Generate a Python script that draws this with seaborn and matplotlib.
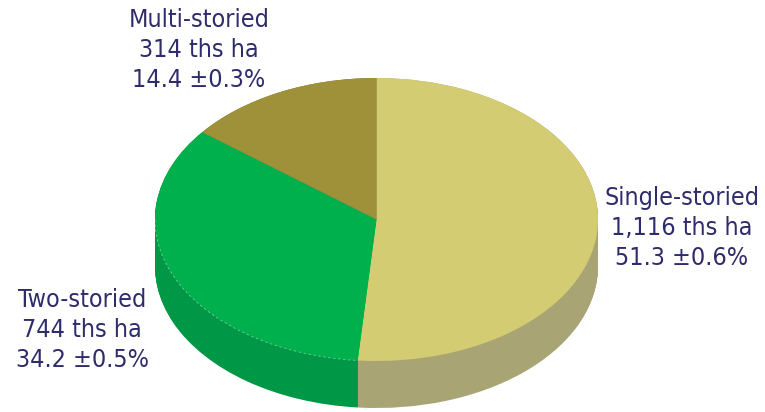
import matplotlib
matplotlib.use("Agg")
import matplotlib.pyplot as plt
import seaborn as sns
import numpy as np
from matplotlib.patches import Arc

sns.set_style("white")
plt.rcParams['font.family'] = ['DejaVu Sans']

# ---- data ----
categories = ["Single-storied", "Two-storied", "Multi-storied"]
areas = ["1,116 ths ha", "744 ths ha", "314 ths ha"]
shares = [51.3, 34.2, 14.4]
errors = [0.6, 0.5, 0.3]
top_colors = ["#D4CC72", "#00B04C", "#9E9139"]
side_colors = ["#A8A474", "#009846", "#7E7430"]

W, H = 765, 412
fig = plt.figure(figsize=(W / 100, H / 100), dpi=100)
ax = fig.add_axes([0, 0, 1, 1])

# geometry in pixels
cx_px, cy_px = 376.5, 219.5
a_px, b_px, depth_px = 221.5, 141.5, 47
r = b_px / a_px
cx = cx_px
cy = (H - cy_px) / r
depth = depth_px / r

# side layers
for k in np.linspace(depth, 0, 60):
    ax.pie(shares, colors=side_colors, center=(cx, cy - k), radius=a_px,
           startangle=90, counterclock=False, wedgeprops=dict(linewidth=0),
           frame=True)
# top face
ax.pie(shares, colors=top_colors, center=(cx, cy), radius=a_px,
       startangle=90, counterclock=False, wedgeprops=dict(linewidth=0),
       frame=True)

# faint dashed rim on the green front edge
end_angle = 90 - 360 * shares[0] / sum(shares)
ax.add_patch(Arc((cx, cy), 2 * a_px, 2 * a_px, theta1=180, theta2=360 + end_angle,
                 color="white", lw=0.6, ls=(0, (3, 3)), alpha=0.45))

ax.set_aspect('auto')
ax.set_xlim(0, W)
ax.set_ylim(0, H / r)
ax.axis('off')

text_color = "#2E2C6B"
label_pos = [(682, 228), (82, 330), (199, 50)]
for cat, ar, s, e, (x, y) in zip(categories, areas, shares, errors, label_pos):
    fig.text(x / W, 1 - y / H, f"{cat}\n{ar}\n{s:.1f} ±{e:.1f}%",
             ha='center', va='center', fontsize=18, color=text_color,
             linespacing=1.3, fontstretch='condensed')

fig.savefig("out.png", dpi=100)
